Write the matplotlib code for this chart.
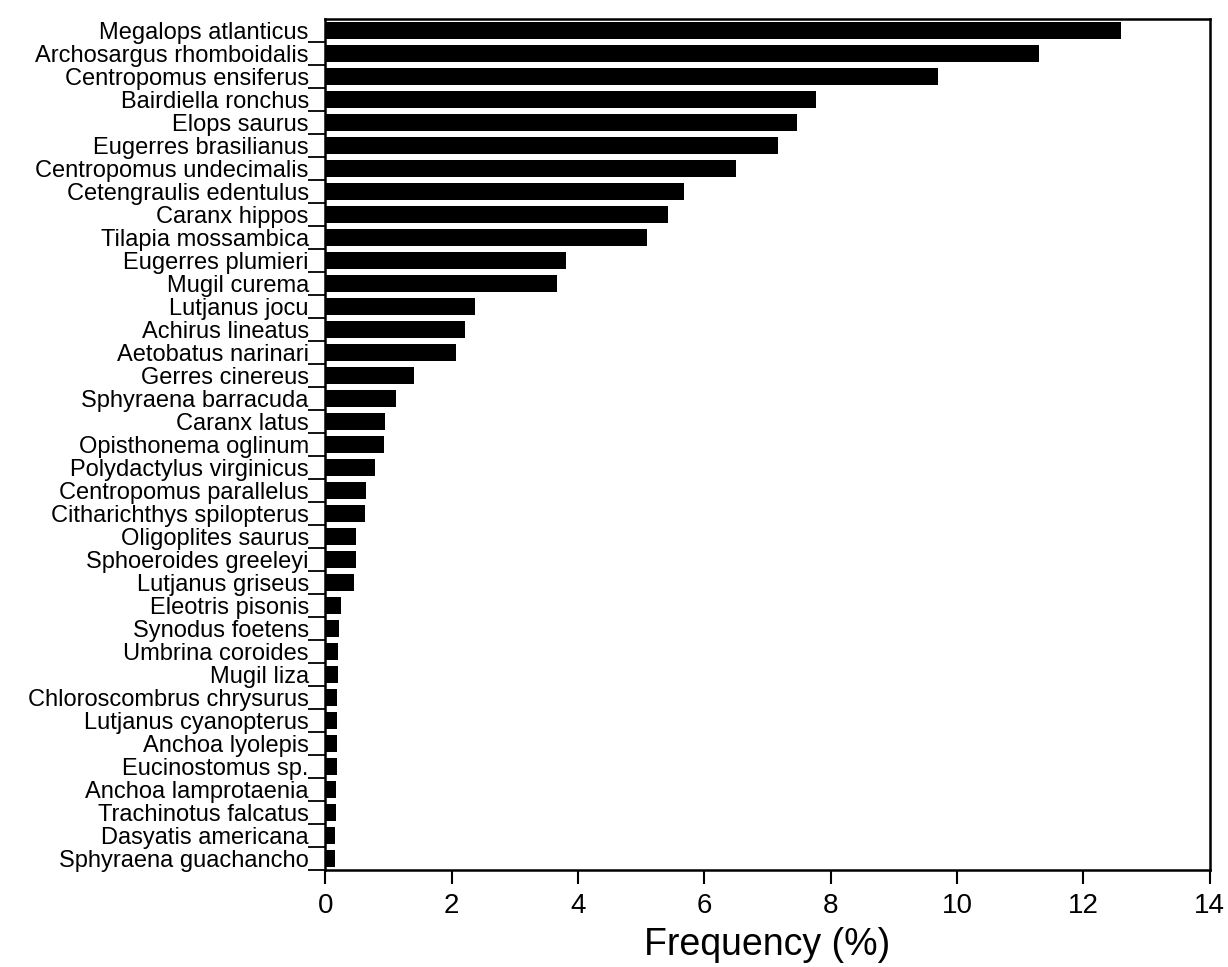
import matplotlib
matplotlib.use("Agg")
import matplotlib.pyplot as plt
import numpy as np

species = [
    "Megalops atlanticus", "Archosargus rhomboidalis", "Centropomus ensiferus",
    "Bairdiella ronchus", "Elops saurus", "Eugerres brasilianus",
    "Centropomus undecimalis", "Cetengraulis edentulus", "Caranx hippos",
    "Tilapia mossambica", "Eugerres plumieri", "Mugil curema",
    "Lutjanus jocu", "Achirus lineatus", "Aetobatus narinari",
    "Gerres cinereus", "Sphyraena barracuda", "Caranx latus",
    "Opisthonema oglinum", "Polydactylus virginicus", "Centropomus parallelus",
    "Citharichthys spilopterus", "Oligoplites saurus", "Sphoeroides greeleyi",
    "Lutjanus griseus", "Eleotris pisonis", "Synodus foetens",
    "Umbrina coroides", "Mugil liza", "Chloroscombrus chrysurus",
    "Lutjanus cyanopterus", "Anchoa lyolepis", "Eucinostomus sp.",
    "Anchoa lamprotaenia", "Trachinotus falcatus", "Dasyatis americana",
    "Sphyraena guachancho",
]
frequency = [
    12.6, 11.3, 9.7, 7.77, 7.46, 7.16, 6.5, 5.67, 5.42, 5.09, 3.81, 3.67,
    2.37, 2.21, 2.06, 1.41, 1.11, 0.94, 0.93, 0.78, 0.64, 0.63, 0.49, 0.48,
    0.46, 0.24, 0.21, 0.2, 0.2, 0.19, 0.19, 0.19, 0.18, 0.17, 0.17, 0.15,
    0.15,
]
xticks = [0, 2, 4, 6, 8, 10, 12, 14]

plt.rcParams['font.family'] = ['Liberation Sans', 'DejaVu Sans']

fig = plt.figure(figsize=(12.28, 9.67), dpi=100)
ax = fig.add_axes([0.265, 0.10, 0.72, 0.88])

pos = np.arange(len(species))
ax.barh(pos, frequency, height=0.75, color="black")

ax.set_xlim(0, 14)
ax.set_ylim(len(species) - 0.5, -0.5)
ax.set_xticks(xticks)
ax.set_xticklabels([str(t) for t in xticks], fontsize=20)
ax.tick_params(axis="x", direction="out", length=10, width=1.5, pad=6)

# boundary ticks between bars, labels centred on bars
ax.set_yticks(np.arange(len(species)) + 0.5)
ax.set_yticklabels([])
ax.set_yticks(pos, minor=True)
ax.set_yticklabels(species, minor=True, fontsize=17)
ax.tick_params(axis="y", which="major", direction="out", length=12, width=1.3)
ax.tick_params(axis="y", which="minor", length=0, pad=12)

for s in ax.spines.values():
    s.set_linewidth(1.8)

ax.set_xlabel("Frequency (%)", fontsize=27, labelpad=6)

fig.savefig("out.png", dpi=100)
